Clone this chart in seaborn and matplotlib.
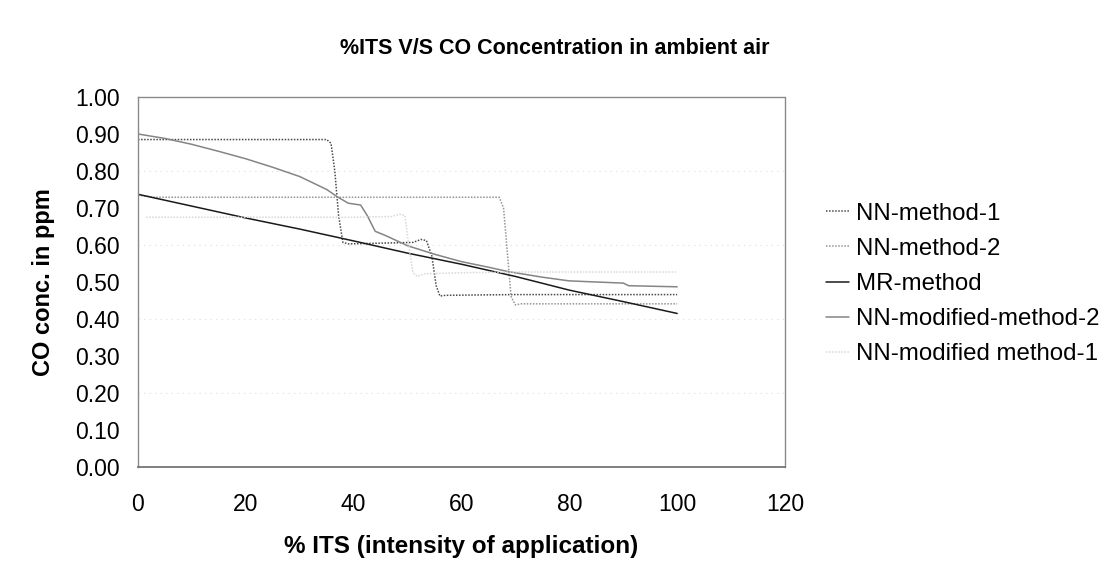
import numpy as np
import pandas as pd
import matplotlib
matplotlib.use("Agg")
import matplotlib.pyplot as plt
import seaborn as sns

# ── Data ────────────────────────────────────────────────────────
nn1_x = [0, 10, 20, 30, 35, 35.8, 36.5, 37.2, 38, 39, 45, 51, 52.5, 53.5, 54.5, 55.3, 56, 57, 70, 85, 100]
nn1_y = [0.885, 0.885, 0.885, 0.885, 0.885, 0.875, 0.80, 0.68, 0.607, 0.603, 0.605, 0.607, 0.615, 0.612,
         0.57, 0.49, 0.462, 0.464, 0.466, 0.466, 0.466]

nn2_x = [0, 3, 20, 40, 60, 67, 67.8, 68.5, 69.2, 70, 71, 80, 90, 100]
nn2_y = [0.735, 0.729, 0.729, 0.729, 0.729, 0.729, 0.70, 0.58, 0.46, 0.438, 0.441, 0.441, 0.441, 0.441]

mr_x = [0, 10, 20, 30, 40, 50, 60, 70, 80, 90, 100]
mr_y = [0.737, 0.705, 0.673, 0.643, 0.611, 0.578, 0.548, 0.515, 0.478, 0.447, 0.415]

mod2_x = [0, 5, 10, 15, 20, 25, 30, 35, 37, 39, 41.3, 42.5, 44, 46, 50, 55, 60, 65, 68.7, 75, 80, 90, 91, 100]
mod2_y = [0.90, 0.888, 0.872, 0.853, 0.833, 0.81, 0.785, 0.75, 0.73, 0.713, 0.708, 0.68, 0.637, 0.625,
          0.598, 0.575, 0.555, 0.54, 0.528, 0.513, 0.503, 0.497, 0.49, 0.487]

mod1_x = [1.5, 10, 20, 30, 40, 47, 48.5, 49.5, 50.2, 51, 51.8, 53, 60, 70, 80, 90, 100]
mod1_y = [0.675, 0.675, 0.675, 0.675, 0.675, 0.677, 0.683, 0.68, 0.60, 0.525, 0.515, 0.522, 0.525,
          0.527, 0.527, 0.527, 0.527]

x_ticks = [0, 20, 40, 60, 80, 100, 120]
y_ticks = [0.0, 0.1, 0.2, 0.3, 0.4, 0.5, 0.6, 0.7, 0.8, 0.9, 1.0]

series = [
    ("NN-method-1", nn1_x, nn1_y, "#4a4a4a", (0, (1, 1))),
    ("NN-method-2", nn2_x, nn2_y, "#959595", (0, (1, 1))),
    ("MR-method", mr_x, mr_y, "#1a1a1a", "-"),
    ("NN-modified-method-2", mod2_x, mod2_y, "#858585", "-"),
    ("NN-modified method-1", mod1_x, mod1_y, "#d8d8d8", (0, (1, 1))),
]

sns.set_style("white")
plt.rcParams['font.family'] = ['Liberation Sans', 'DejaVu Sans']
plt.rcParams['text.color'] = 'black'
plt.rcParams['xtick.color'] = 'black'
plt.rcParams['ytick.color'] = 'black'
plt.rcParams['axes.labelcolor'] = 'black'

fig = plt.figure(figsize=(11.09, 5.61), dpi=100)
ax = fig.add_axes([138 / 1109, 1 - 467 / 561, 647 / 1109, 370 / 561])

# faint scanned gridlines
for g in [0.2, 0.4, 0.6, 0.8]:
    ax.axhline(g, color="#dcdcdc", lw=0.8, ls=(0, (1, 4)), zorder=0)

for name, xs, ys, col, ls in series:
    df = pd.DataFrame({"x": xs, "y": ys})
    sns.lineplot(data=df, x="x", y="y", ax=ax, color=col, linestyle=ls,
                 linewidth=1.1, label=name, estimator=None)

ax.set_xlim(0, 120)
ax.set_ylim(0, 1.0)
ax.set_xticks(x_ticks)
ax.set_yticks(y_ticks)
ax.set_yticklabels([f"{v:.2f}" for v in y_ticks])
ax.tick_params(axis="both", length=0, labelsize=16.5)
ax.tick_params(axis="x", pad=19)
ax.tick_params(axis="y", pad=13)

for side in ["top", "right", "left"]:
    ax.spines[side].set_linestyle((0, (1, 1)))
    ax.spines[side].set_color("#8a8a8a")
    ax.spines[side].set_linewidth(1)
ax.spines["bottom"].set_color("#6a6a6a")
ax.spines["bottom"].set_linewidth(1.2)

ax.set_xlabel("% ITS (intensity of application)", fontsize=17.5, fontweight="bold")
ax.set_ylabel("CO conc. in ppm", fontsize=17, fontweight="bold")
ax.xaxis.set_label_coords(0.5, -0.185)
ax.yaxis.set_label_coords(-0.128, 0.5)

fig.text(0.5, 1 - 48 / 561, "%ITS V/S CO Concentration in ambient air",
         ha="center", va="center", fontsize=15.5, fontweight="bold")

ax.legend_.remove()
h, l = ax.get_legend_handles_labels()
fig.legend(h, l, loc="center left", bbox_to_anchor=(826 / 1109, 1 - 284 / 561),
           frameon=False, fontsize=17.3, handlelength=0.95, handletextpad=0.3,
           labelspacing=0.55, borderpad=0, borderaxespad=0)

fig.savefig("out.png", dpi=100)
